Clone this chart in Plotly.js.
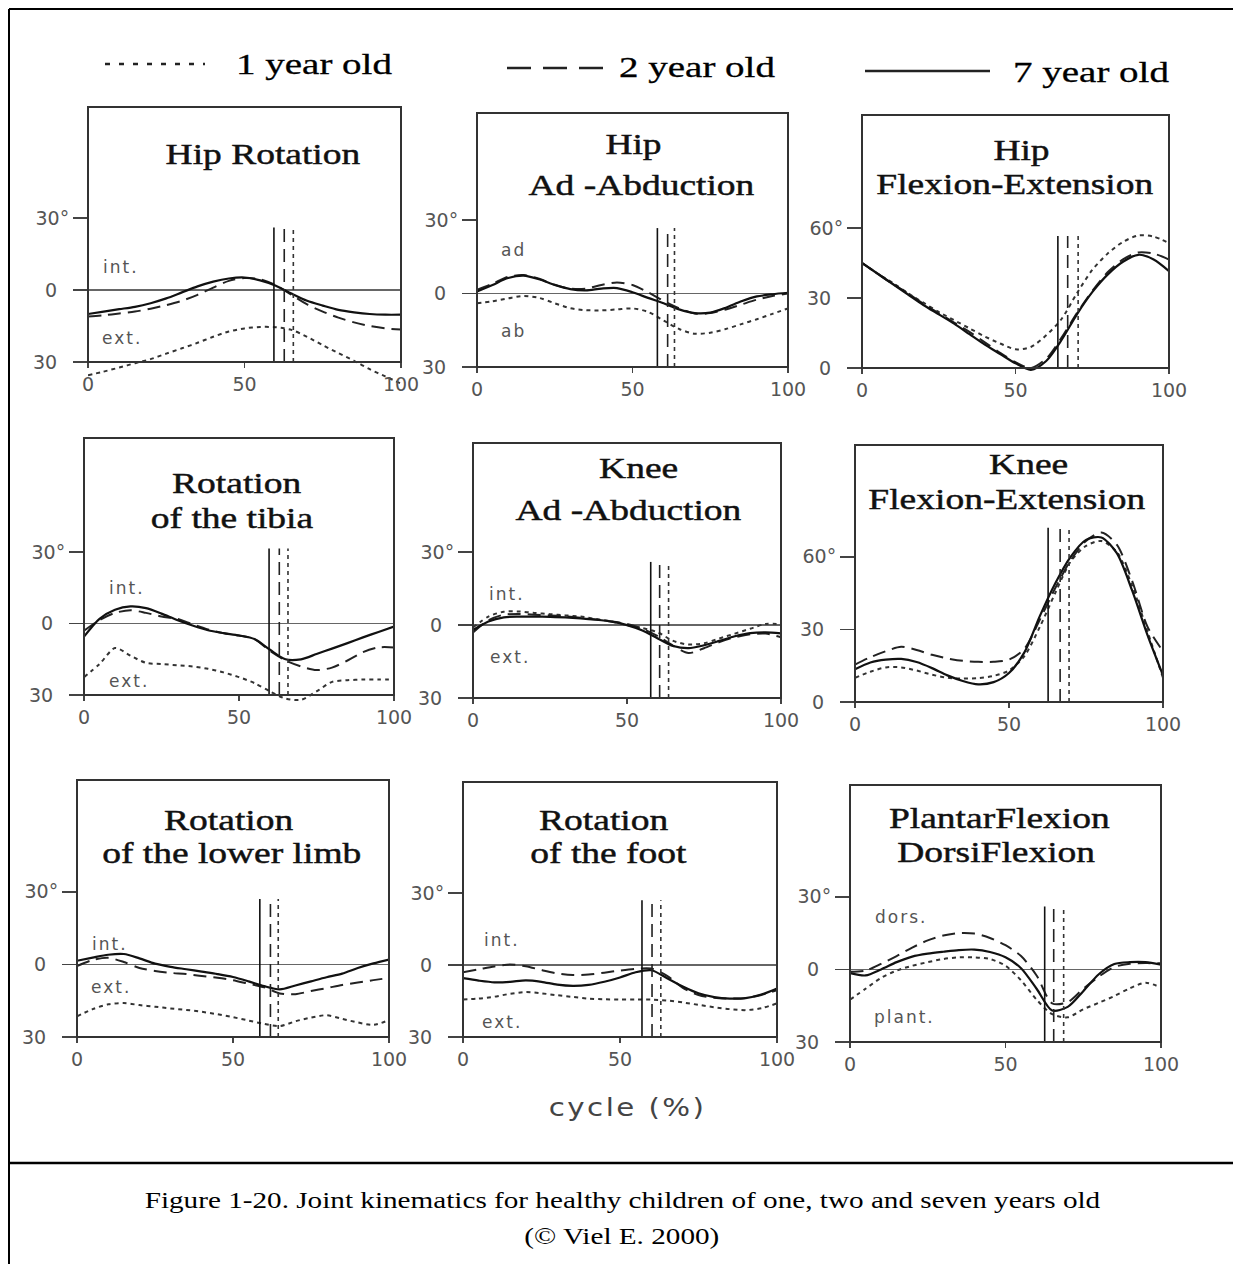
<!DOCTYPE html>
<html>
<head>
<meta charset="utf-8">
<script src="https://cdn.plot.ly/plotly-3.0.1.min.js"></script>
<style>
html,body{margin:0;padding:0;background:#fff;}
#chart{width:1233px;height:1264px;}
</style>
</head>
<body>
<div id="chart"></div>
<script>
// ---------------- DATA ----------------
const cycle = [0,5,10,15,20,25,30,35,40,45,50,55,60,65,70,75,80,85,90,95,100];
const ageLabels = ['1 year old', '2 year old', '7 year old'];

const xTickVals = [0, 50, 100];
const yTickValsRot = [-30, 0, 30];
const yTickTextRot = ['30\u00a0\u00a0', '0\u00a0\u00a0', '30°'];
const yTickValsFlex = [0, 30, 60];
const yTickTextFlex = ['0\u00a0\u00a0', '30\u00a0\u00a0', '60°'];

// Hip rotation
const hipRotation1 = [-35.5,-34,-32.3,-30.5,-28.8,-26.5,-24.3,-22,-19.5,-17.3,-16,-15.4,-15.5,-16.6,-19.5,-23,-26.3,-29.5,-33,-36,-39];
const hipRotation2 = [-11,-10.5,-9.8,-9,-7.8,-6.3,-4.5,-2,1,3.8,5,4.5,2,-2,-6,-9,-11.5,-13.5,-15,-16,-16.5];
const hipRotation7 = [-10,-9,-8,-7,-5.5,-3.5,-1,1.5,3.5,4.8,5.2,4,1.8,-1.5,-4.5,-6.5,-8.3,-9.3,-10,-10.3,-10.3];
const hipRotationToeOff = [65.6, 62.7, 59.4];
const hipRotationToeOffTop = 26;

// Hip ad-abduction
const hipAbduction1 = [-4,-3.2,-2,-1,-1.8,-4,-6,-6.8,-6.9,-6.5,-6.1,-7.5,-11,-14.5,-16.4,-16,-14.5,-12.5,-10.5,-8.3,-6.1];
const hipAbduction2 = [1.5,4,6.8,7.5,6,3.5,2,2,3.5,4.5,3.5,0.5,-3,-6,-8.2,-8,-6.5,-4.5,-2.5,-1,0];
const hipAbduction7 = [0.8,3.5,6.3,7.3,5.8,3.5,1.8,1.3,2,2.2,0.5,-1.8,-4,-6.5,-8,-7.8,-5.8,-3.2,-1.2,-0.3,0.3];
const hipAbductionToeOff = [63.5, 61.3, 58];
const hipAbductionToeOffTop = 26.7;

// Hip flexion-extension
const hipFlexion1 = [45,40.5,36.5,32,28,24,20.5,17,13.5,10.5,8,9,14,21,32,42,49,54,56.8,56.3,53.5];
const hipFlexion2 = [45,40.5,36,32,27.5,23.5,19.5,15.5,11,6.5,2.5,0,4,13,23.5,33,41,46.5,49.5,49,46.5];
const hipFlexion7 = [45,40.5,36,31.5,27,23,19,14.5,10,6,2,-0.8,3,12,23,32.5,40,45.5,48.5,46.5,41.5];
const hipFlexionToeOff = [70.4, 67, 63.8];
const hipFlexionToeOffTop = 56.6;

// Rotation of the tibia
const tibiaRotation1 = [-22.5,-17,-10.3,-13.5,-16.5,-17,-17.5,-18,-19,-20.5,-22.5,-25,-28.5,-31.5,-32,-28.5,-24.5,-23.8,-23.5,-23.5,-23.4];
const tibiaRotation2 = [-3,1.5,4.5,5.6,4.5,3,2,-0.3,-2.5,-4,-5,-6.5,-11.5,-15.5,-18,-19.5,-18.5,-15.5,-12,-10,-10];
const tibiaRotation7 = [-5.5,2,5.8,7.2,6.5,4.2,1.5,-0.8,-2.8,-4,-5,-6.5,-11,-15,-15,-12.8,-10.5,-8.2,-5.8,-3.5,-1.2];
const tibiaRotationToeOff = [65.8, 63, 59.7];
const tibiaRotationToeOffTop = 31.6;

// Knee ad-abduction
const kneeAbduction1 = [-1,3.5,5.5,5.6,5,4.5,4,3.5,2.5,1.5,0,-1.2,-3,-6.5,-8,-7.5,-5.5,-3.5,-1.5,0.5,0.3];
const kneeAbduction2 = [-3,2,4.3,4.6,4.3,4,3.6,3,2.3,1.5,0.5,-1.5,-4.5,-8.5,-11.5,-9.5,-7,-5,-3.8,-3.5,-5];
const kneeAbduction7 = [-2,1.5,3.2,3.5,3.5,3.4,3.2,2.8,2.2,1.4,0,-2.2,-5.5,-8.6,-9.5,-8.3,-6.5,-4.6,-3.3,-3,-3.4];
const kneeAbductionToeOff = [63.5, 60.6, 57.7];
const kneeAbductionToeOffTop = 26;

// Knee flexion-extension
const kneeFlexion1 = [10,12.5,14.3,14.3,13,11.3,10,9.7,9.9,10.8,13,19,31,45,58,64.5,66.5,62,48,29,10];
const kneeFlexion2 = [15.5,18.5,21,22.8,21.5,19.5,18,17,16.6,16.6,17.5,22,34,47,58.5,66.5,70,65,50,31,21];
const kneeFlexion7 = [13.5,16.3,17.5,17.8,16.5,14,11,8.7,7.3,8.2,12,20.5,35.5,49,60,67,68,61.5,46,27.5,11];
const kneeFlexionToeOff = [69.5, 66.6, 62.7];
const kneeFlexionToeOffTop = 72;

// Rotation of the lower limb
const limbRotation1 = [-21.5,-18.5,-16.5,-16,-16.8,-17.5,-18.2,-18.8,-19.6,-20.6,-21.8,-23.2,-24.6,-25.5,-23.5,-22,-21,-22.5,-24,-25,-23];
const limbRotation2 = [-0.7,1.8,2.7,1,-1.5,-2.7,-3.5,-4,-4.8,-5.5,-6.5,-8,-9.5,-12,-12.3,-11,-9.8,-8.5,-7.5,-6.5,-5.6];
const limbRotation7 = [1.5,2.8,4,4.3,2.5,0.3,-1,-2,-3,-4,-5.2,-7,-9,-10.3,-8.7,-7,-5.3,-3.8,-1.5,0.4,2];
const limbRotationToeOff = [64.5, 62, 58.6];
const limbRotationToeOffTop = 27;

// Rotation of the foot
const footRotation1 = [-14.4,-14,-13.2,-12,-11.3,-11.8,-12.6,-13.3,-14,-14.3,-14.4,-14.4,-14.4,-14.8,-15.6,-16.6,-17.6,-18.4,-18.8,-18,-16];
const footRotation2 = [-3,-1.8,-0.6,0.2,-0.5,-2.1,-3.5,-4.2,-4,-3.2,-2.3,-1.6,-1.5,-4.5,-9.5,-12.5,-13.7,-14,-13.8,-12.5,-10.5];
const footRotation7 = [-5.5,-6.5,-7.2,-7,-6.4,-7,-8.2,-8.7,-8.3,-7,-5.2,-3,-2.2,-5.5,-9,-11.8,-13.4,-14,-13.8,-12.3,-9.8];
const footRotationToeOff = [63, 60.2, 57];
const footRotationToeOffTop = 27;

// Plantar flexion / dorsiflexion
const ankleFlexion1 = [-12.5,-8,-3.5,-0.5,1.5,3,4.3,5,5,4.3,1.5,-4.5,-12.5,-18.5,-19.8,-16.5,-13.8,-11,-7.8,-5.5,-7.5];
const ankleFlexion2 = [-1,-0.5,2.3,5.5,9,12,14,15,14.8,13,10,5.5,-2.5,-14,-13.5,-8,-3,1,2.3,2.6,2.5];
const ankleFlexion7 = [-1.5,-2.5,0,3,5.3,6.5,7.3,8,8.2,7.2,5,0.5,-8,-17,-15.5,-9,-2,2.2,3,3,2];
const ankleFlexionToeOff = [68.7, 65.5, 62.6];
const ankleFlexionToeOffTop = 26;

// ---------------- PANELS ----------------
const W = 1233, H = 1264, EXT = 30;
const panels = [
  {title:['Hip Rotation'], tc:[[263,154]], L:88, R:401, T:107, B:362, ybot:-30, ppd:2.4,
   s:[hipRotation1,hipRotation2,hipRotation7], to:hipRotationToeOff, tt:hipRotationToeOffTop,
   lab:[['int.',10.4,9.6],['ext.',11,-20]]},
  {title:['Hip','Ad -Abduction'], tc:[[633,143],[641,184]], L:477, R:788, T:113, B:367, ybot:-30, ppd:2.45,
   s:[hipAbduction1,hipAbduction2,hipAbduction7], to:hipAbductionToeOff, tt:hipAbductionToeOffTop,
   lab:[['ad',11.6,17.6],['ab',11.6,-15.2]]},
  {title:['Hip','Flexion-Extension'], tc:[[1021,150],[1015,183]], L:862, R:1169, T:115, B:368, ybot:0, ppd:2.334, flex:true,
   s:[hipFlexion1,hipFlexion2,hipFlexion7], to:hipFlexionToeOff, tt:hipFlexionToeOffTop, lab:[]},
  {title:['Rotation','of the tibia'], tc:[[236,483],[232,517]], L:84, R:394, T:438, B:695, ybot:-30, ppd:2.38,
   s:[tibiaRotation1,tibiaRotation2,tibiaRotation7], to:tibiaRotationToeOff, tt:tibiaRotationToeOffTop,
   lab:[['int.',14,15],['ext.',14.5,-24]]},
  {title:['Knee','Ad -Abduction'], tc:[[638,468],[628,509]], L:473, R:781, T:443, B:698, ybot:-30, ppd:2.43,
   s:[kneeAbduction1,kneeAbduction2,kneeAbduction7], to:kneeAbductionToeOff, tt:kneeAbductionToeOffTop,
   lab:[['int.',11,13],['ext.',12,-13]]},
  {title:['Knee','Flexion-Extension'], tc:[[1028,464],[1007,498]], L:855, R:1163, T:445, B:702, ybot:0, ppd:2.42, flex:true,
   s:[kneeFlexion1,kneeFlexion2,kneeFlexion7], to:kneeFlexionToeOff, tt:kneeFlexionToeOffTop, lab:[]},
  {title:['Rotation','of the lower limb'], tc:[[228,819],[231,852]], L:77, R:389, T:780, B:1037, ybot:-30, ppd:2.42,
   s:[limbRotation1,limbRotation2,limbRotation7], to:limbRotationToeOff, tt:limbRotationToeOffTop,
   lab:[['int.',10.6,8.5],['ext.',11,-9.3]]},
  {title:['Rotation','of the foot'], tc:[[603,819],[609,852]], L:463, R:777, T:782, B:1037, ybot:-30, ppd:2.4,
   s:[footRotation1,footRotation2,footRotation7], to:footRotationToeOff, tt:footRotationToeOffTop,
   lab:[['int.',12.4,10.4],['ext.',12.4,-23.7]]},
  {title:['PlantarFlexion','DorsiFlexion'], tc:[[999,817],[996,851]], L:850, R:1161, T:785, B:1042, ybot:-30, ppd:2.42,
   s:[ankleFlexion1,ankleFlexion2,ankleFlexion7], to:ankleFlexionToeOff, tt:ankleFlexionToeOffTop,
   lab:[['dors.',16.4,21.5],['plant.',17.4,-19.8]]}
];

const ageStyle = [
  {dash:'4px,4px', color:'#333', width:2},
  {dash:'13px,7px', color:'#222', width:2},
  {dash:'solid', color:'#111', width:2.2}
];

const SERIF = 'Liberation Serif, Times New Roman, serif';
const SANS = 'DejaVu Sans, sans-serif';
const tickFont = {family:SANS, size:19, color:'#555'};

const traces = [];
const shapes = [];
const annotations = [];
const STRETCH = [];
const LSPACE = [];
const STROKE = [];
function addAnn(a, stretch, ls, stroke){ annotations.push(a); STRETCH.push(stretch||1); LSPACE.push(ls||0); STROKE.push(stroke||0); }
const px = x => x / W;
const py = y => 1 - y / H;

const layout = {
  width: W, height: H,
  margin: {l:0, r:0, t:0, b:0},
  paper_bgcolor: '#fff', plot_bgcolor: 'rgba(0,0,0,0)',
  showlegend: false,
  font: {family: SANS, color: '#333'}
};

panels.forEach(function(p, k){
  const sfx = k ? String(k+1) : '';
  const xr = 'x' + sfx, yr = 'y' + sfx;
  layout['xaxis' + sfx] = {
    domain: [px(p.L), px(p.R)], range: [0, 100], anchor: 'free', position: py(p.B),
    tickvals: xTickVals, ticks: 'outside', ticklen: 5, tickwidth: 1.5, tickcolor: '#444',
    showline: false, showgrid: false, zeroline: false, tickfont: tickFont, fixedrange: true
  };
  layout['yaxis' + sfx] = {
    domain: [py(p.B + EXT), py(p.T)],
    range: [p.ybot - EXT / p.ppd, p.ybot + (p.B - p.T) / p.ppd],
    anchor: xr,
    tickvals: p.flex ? yTickValsFlex : yTickValsRot,
    ticktext: p.flex ? yTickTextFlex : yTickTextRot,
    ticks: 'outside', ticklen: 14, tickwidth: 1.5, tickcolor: '#444',
    showline: false, showgrid: false,
    zeroline: !p.flex, zerolinecolor: '#666', zerolinewidth: 1.5,
    tickfont: tickFont, fixedrange: true
  };
  // curves
  p.s.forEach(function(arr, a){
    traces.push({
      type: 'scatter', mode: 'lines', x: cycle, y: arr, xaxis: xr, yaxis: yr,
      name: ageLabels[a], hoverinfo: 'skip',
      line: {color: ageStyle[a].color, width: ageStyle[a].width, dash: ageStyle[a].dash, shape: 'spline', smoothing: 0.8}
    });
  });
  // toe-off lines
  p.to.forEach(function(v, a){
    traces.push({
      type: 'scatter', mode: 'lines', x: [v, v], y: [p.ybot, p.tt], xaxis: xr, yaxis: yr,
      name: ageLabels[a] + ' toe-off', hoverinfo: 'skip',
      line: {color: ageStyle[a].color, width: 1.6, dash: ageStyle[a].dash}
    });
  });
  // frame box
  shapes.push({type:'rect', xref:'paper', yref:'paper', x0:px(p.L), x1:px(p.R), y0:py(p.B), y1:py(p.T),
               line:{color:'#333', width:2}, fillcolor:'rgba(0,0,0,0)'});
  // titles
  p.title.forEach(function(t, i){
    addAnn({text:t, xref:'paper', yref:'paper', x:px(p.tc[i][0]), y:py(p.tc[i][1]),
            xanchor:'center', yanchor:'middle', showarrow:false,
            font:{family:SERIF, size:30, color:'#111'}}, 1.25, 0, 0.45);
  });
  // side labels
  p.lab.forEach(function(l){
    addAnn({text:l[0], xref:xr, yref:yr, x:l[1], y:l[2], xanchor:'center', yanchor:'middle',
            showarrow:false, font:{family:SANS, size:17, color:'#555'}}, 1, 2);
  });
});

// outer figure frame
shapes.push({type:'line', xref:'paper', yref:'paper', x0:px(9), x1:px(9), y0:py(9), y1:0, line:{color:'#000', width:2}});
shapes.push({type:'line', xref:'paper', yref:'paper', x0:px(9), x1:1, y0:py(9), y1:py(9), line:{color:'#000', width:2}});
shapes.push({type:'line', xref:'paper', yref:'paper', x0:px(9), x1:1, y0:py(1163), y1:py(1163), line:{color:'#000', width:2.5}});

// legend samples
shapes.push({type:'line', xref:'paper', yref:'paper', x0:px(105), x1:px(205), y0:py(64), y1:py(64), line:{color:'#222', width:2.5, dash:'5px,9px'}});
shapes.push({type:'line', xref:'paper', yref:'paper', x0:px(507), x1:px(607), y0:py(68), y1:py(68), line:{color:'#222', width:2.5, dash:'24px,12px'}});
shapes.push({type:'line', xref:'paper', yref:'paper', x0:px(865), x1:px(990), y0:py(71), y1:py(71), line:{color:'#222', width:2.5}});
[[ageLabels[0],314,63],[ageLabels[1],697,67],[ageLabels[2],1091,72]].forEach(function(l){
  addAnn({text:l[0], xref:'paper', yref:'paper', x:px(l[1]), y:py(l[2]), xanchor:'center', yanchor:'middle',
          showarrow:false, font:{family:SERIF, size:30, color:'#000'}}, 1.3, 0, 0.3);
});

// x axis title
addAnn({text:'cycle (%)', xref:'paper', yref:'paper', x:px(627), y:py(1108), xanchor:'center', yanchor:'middle',
        showarrow:false, font:{family:SANS, size:24, color:'#444'}}, 1.22, 2);

// caption
addAnn({text:'Figure 1-20. Joint kinematics for healthy children of one, two and seven years old',
        xref:'paper', yref:'paper', x:px(623), y:py(1200), xanchor:'center', yanchor:'middle',
        showarrow:false, font:{family:SERIF, size:23, color:'#000'}}, 1.27);
addAnn({text:'(© Viel E. 2000)', xref:'paper', yref:'paper', x:px(622), y:py(1236), xanchor:'center', yanchor:'middle',
        showarrow:false, font:{family:SERIF, size:23, color:'#000'}}, 1.27);

layout.shapes = shapes;
layout.annotations = annotations;

const gd = document.getElementById('chart');
Plotly.newPlot(gd, traces, layout, {staticPlot:true, displayModeBar:false, responsive:false}).then(function(){
  annotations.forEach(function(a, i){
    const t = gd.querySelector('g.annotation[data-index="' + i + '"] text.annotation-text');
    if (!t) return;
    if (LSPACE[i]) t.style.letterSpacing = LSPACE[i] + 'px';
    if (STROKE[i]) { t.style.stroke = a.font.color; t.style.strokeWidth = STROKE[i] + 'px'; }
    const s = STRETCH[i];
    if (s !== 1) {
      const b = t.getBBox();
      const cx = b.x + b.width / 2;
      const prev = t.getAttribute('transform') || '';
      t.setAttribute('transform', prev + ' translate(' + cx + ',0) scale(' + s + ',1) translate(' + (-cx) + ',0)');
    }
  });
});
</script>
</body>
</html>
